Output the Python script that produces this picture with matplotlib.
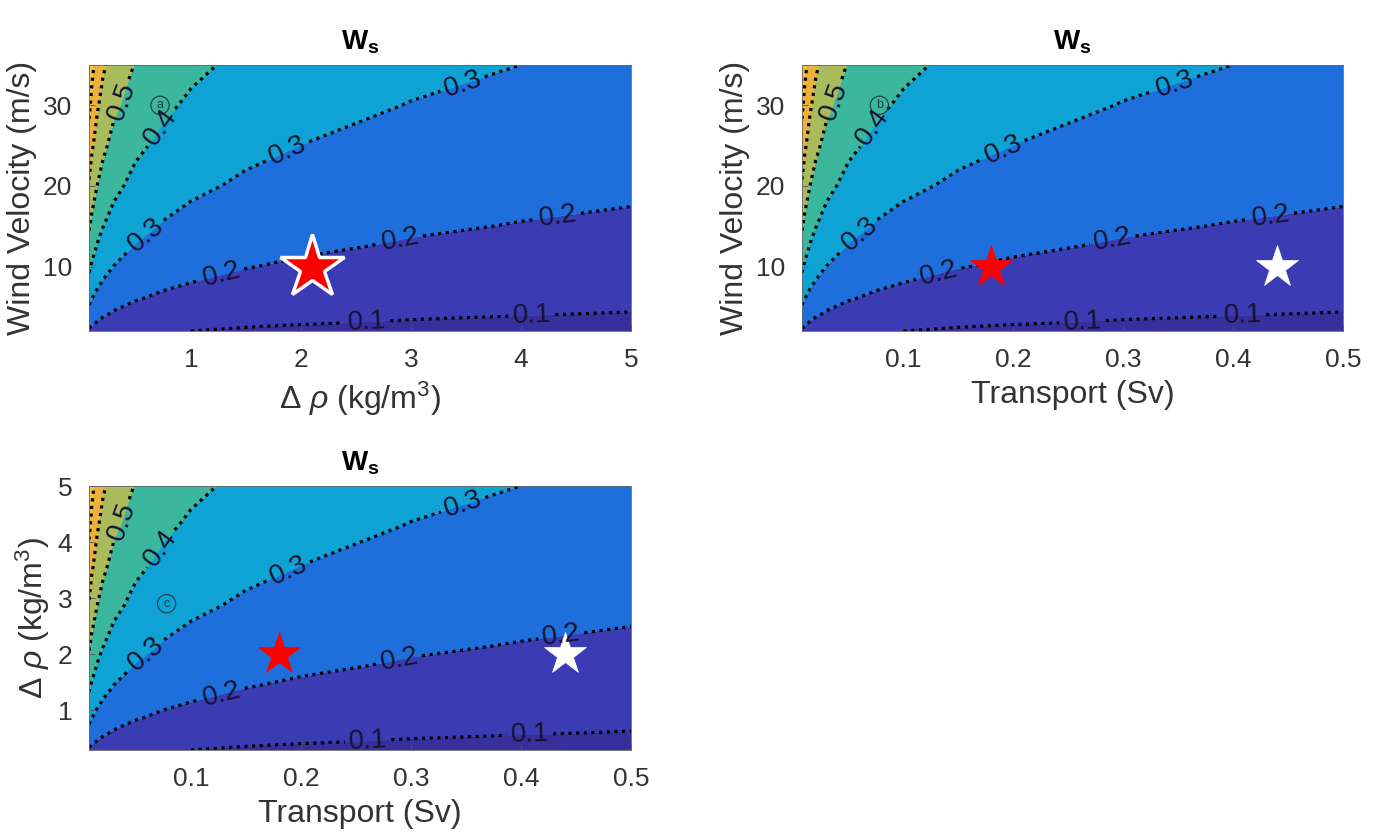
import matplotlib
matplotlib.use("Agg")
import matplotlib.pyplot as plt
import numpy as np

plt.rcParams['font.family'] = ['Liberation Sans', 'DejaVu Sans']
plt.rcParams['mathtext.fontset'] = 'custom'
plt.rcParams['mathtext.rm'] = 'Liberation Sans'
plt.rcParams['mathtext.it'] = 'Liberation Sans:italic'
plt.rcParams['mathtext.bf'] = 'Liberation Sans:bold'

# grid axes
density = [0.075, 0.1, 0.15, 0.2, 0.3, 0.5, 0.75, 1, 1.5, 2, 3, 4, 5]
transport = [0.0075, 0.01, 0.015, 0.02, 0.03, 0.05, 0.075, 0.1, 0.15, 0.2, 0.3, 0.4, 0.5]
wind = [2, 3, 4, 6, 8, 10, 12.5, 15, 20, 25, 30, 35]
density_y = [0.286, 0.429, 0.571, 0.857, 1.143, 1.429, 1.786, 2.143, 2.857, 3.571, 4.286, 5.0]

# W_s, one row per wind (or density_y) value, one column per density/transport value
ws_grid = [
    [0.1862, 0.1738, 0.1577, 0.1471, 0.1335, 0.1181, 0.1072, 0.1000, 0.0907, 0.0847, 0.0768, 0.0717, 0.0679],
    [0.2281, 0.2129, 0.1931, 0.1801, 0.1635, 0.1446, 0.1313, 0.1225, 0.1110, 0.1038, 0.0941, 0.0878, 0.0831],
    [0.2634, 0.2458, 0.2230, 0.2080, 0.1888, 0.1670, 0.1516, 0.1414, 0.1282, 0.1198, 0.1086, 0.1014, 0.0960],
    [0.3226, 0.3010, 0.2731, 0.2547, 0.2312, 0.2045, 0.1857, 0.1732, 0.1570, 0.1467, 0.1330, 0.1242, 0.1176],
    [0.3725, 0.3476, 0.3154, 0.2942, 0.2670, 0.2362, 0.2144, 0.2000, 0.1813, 0.1694, 0.1536, 0.1434, 0.1358],
    [0.4165, 0.3886, 0.3526, 0.3289, 0.2985, 0.2641, 0.2397, 0.2236, 0.2027, 0.1894, 0.1717, 0.1603, 0.1518],
    [0.4656, 0.4345, 0.3942, 0.3677, 0.3338, 0.2952, 0.2680, 0.2500, 0.2266, 0.2118, 0.1920, 0.1793, 0.1697],
    [0.5101, 0.4760, 0.4318, 0.4028, 0.3656, 0.3234, 0.2936, 0.2738, 0.2483, 0.2320, 0.2103, 0.1964, 0.1859],
    [0.5890, 0.5496, 0.4986, 0.4651, 0.4222, 0.3734, 0.3390, 0.3162, 0.2867, 0.2679, 0.2428, 0.2267, 0.2147],
    [0.6585, 0.6145, 0.5575, 0.5200, 0.4720, 0.4175, 0.3790, 0.3535, 0.3205, 0.2995, 0.2715, 0.2535, 0.2400],
    [0.7213, 0.6731, 0.6107, 0.5696, 0.5170, 0.4573, 0.4152, 0.3872, 0.3511, 0.3281, 0.2974, 0.2777, 0.2629],
    [0.7791, 0.7271, 0.6596, 0.6153, 0.5585, 0.4940, 0.4484, 0.4183, 0.3792, 0.3544, 0.3212, 0.2999, 0.2840],
]

levels = [0.1, 0.2, 0.3, 0.4, 0.5, 0.6, 0.7]
band_colors = ['#37309c', '#3b3bb4', '#1e6fdc', '#0fa2d4', '#3ab79c', '#aabb5c', '#eab23c', '#f6c23a']

# stars: (x, y)
red_star_a = (2.1, 10)
red_star_b = (0.18, 10)
white_star_b = (0.44, 10)
red_star_c = (0.18, 2)
white_star_c = (0.44, 2)

# label anchors for the contour labels
labels_a = [(2.6, 3.2), (4.1, 3.9), (1.28, 9.0), (2.9, 13.4), (4.33, 16.8),
            (0.54, 14.8), (1.87, 24.7), (3.54, 29.7), (0.74, 27.2), (0.33, 30.7)]
labels_b = [(0.263, 3.1), (0.409, 3.6), (0.133, 8.6), (0.291, 12.9), (0.434, 16.6),
            (0.057, 14.5), (0.19, 24.7), (0.354, 29.8), (0.072, 27.3), (0.033, 30.7)]
labels_c = [(0.261, 0.46), (0.408, 0.55), (0.128, 1.33), (0.289, 1.92), (0.437, 2.27),
            (0.054, 2.13), (0.187, 3.56), (0.354, 4.27), (0.074, 3.87), (0.033, 4.40)]

TXT = '#333333'


def draw_panel(ax, xs, ys, label_pos, xticks, yticks, xlabel, ylabel, tag, tag_pos):
    z = np.array(ws_grid)
    fill_levels = [0.0] + levels + [1.0]
    ax.contourf(xs, ys, z, levels=fill_levels, colors=band_colors)
    cs = ax.contour(xs, ys, z, levels=levels, colors='black',
                    linestyles=[(0, (1, 1.4))], linewidths=2.3)
    ax.clabel(cs, levels, inline=True, fmt='%.1f', fontsize=20, colors='#14142e',
              manual=label_pos, inline_spacing=4)
    ax.set_xlim(xs[0], xs[-1])
    ax.set_ylim(ys[0], ys[-1])
    ax.set_xticks(xticks)
    ax.set_yticks(yticks)
    ax.tick_params(direction='in', length=4, width=0.6, color='#555555',
                   labelsize=19, labelcolor=TXT, pad=12)
    for s in ax.spines.values():
        s.set_color('#666666')
        s.set_linewidth(0.6)
    ax.set_xlabel(xlabel, fontsize=23, color=TXT, labelpad=6)
    ax.set_ylabel(ylabel, fontsize=23, color=TXT, labelpad=4)
    ax.set_title(r'$\mathbf{W_s}$', fontsize=20, pad=11)
    ax.text(tag_pos[0], tag_pos[1], tag, fontsize=9, color='#1e3c44', ha='center', va='center',
            bbox=dict(boxstyle='circle,pad=0.25', fc='none', ec='#1e3c44', lw=0.8))


fig = plt.figure(figsize=(13.76, 8.38), dpi=100)
ax1 = fig.add_axes([0.0647, 0.605, 0.3939, 0.3174])
ax2 = fig.add_axes([0.5828, 0.605, 0.3932, 0.3174])
ax3 = fig.add_axes([0.0647, 0.105, 0.3939, 0.3150])

draw_panel(ax1, density, wind, labels_a, [1, 2, 3, 4, 5], [10, 20, 30],
           r'$\Delta\ \rho$ (kg/m$^3$)', 'Wind Velocity (m/s)', 'a', (0.72, 30))
ax1.plot(*red_star_a, marker='*', ms=48, mfc='red', mec='white', mew=2.5, ls='none')

draw_panel(ax2, transport, wind, labels_b, [0.1, 0.2, 0.3, 0.4, 0.5], [10, 20, 30],
           'Transport (Sv)', 'Wind Velocity (m/s)', 'b', (0.078, 30))
ax2.plot(*red_star_b, marker='*', ms=32, mfc='red', mec='red', mew=0.5, ls='none')
ax2.plot(*white_star_b, marker='*', ms=32, mfc='white', mec='white', mew=0.5, ls='none')

draw_panel(ax3, transport, density_y, labels_c, [0.1, 0.2, 0.3, 0.4, 0.5], [1, 2, 3, 4, 5],
           'Transport (Sv)', r'$\Delta\ \rho$ (kg/m$^3$)', 'c', (0.078, 2.9))
ax3.plot(*red_star_c, marker='*', ms=32, mfc='red', mec='red', mew=0.5, ls='none')
ax3.plot(*white_star_c, marker='*', ms=32, mfc='white', mec='white', mew=0.5, ls='none')

fig.savefig('out.png', dpi=100)
